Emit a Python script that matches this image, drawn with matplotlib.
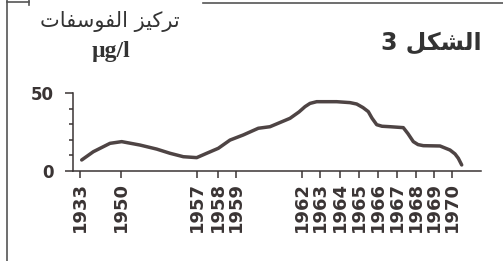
import matplotlib
matplotlib.use("Agg")
import matplotlib.pyplot as plt
from matplotlib.lines import Line2D

# ---- data ----
tick_labels = ["1933", "1950", "1957", "1958", "1959", "1962", "1963", "1964",
               "1965", "1966", "1967", "1968", "1969", "1970"]
# positions of the year ticks along the (non-linear) time axis
tick_pos = [80, 120.7, 196.7, 218.3, 235.7, 302, 320, 340, 359, 378, 397, 416, 434, 452]

curve_x = [81.7, 93.3, 110, 121.7, 140, 156.7, 170, 183.3, 196.7, 206.7, 218.3, 230,
           243.3, 258.3, 270, 290, 299, 305, 310, 316.7, 336.7, 350, 356.7, 363, 368.3,
           372, 376.7, 382, 390, 403.3, 408, 413.3, 418, 423.3, 440, 450, 455, 458.3, 461.7]
curve_y = [7.1, 12.4, 17.8, 18.9, 16.7, 14.1, 11.4, 9.2, 8.6, 11.4, 14.6, 19.9,
           23.2, 27.5, 28.5, 33.9, 38.0, 41.4, 43.5, 44.6, 44.6, 44.0, 43.1, 40.8, 38.2,
           34.0, 29.8, 28.8, 28.5, 27.9, 24.0, 18.9, 17.0, 16.3, 16.1, 13.5, 11.0, 8.2, 3.9]

y_major = [0, 50]
y_minor = [10, 20, 30, 40]

# Arabic texts (presentation forms, visual order)
title_logical = "\uFE97\uFEAE\uFEDB\uFEF4\uFEB0 \uFE8D\uFEDF\uFED4\uFEEE\uFEB3\uFED4\uFE8E\uFE95"
title_ar = title_logical[::-1]          # تركيز الفوسفات
unit_txt = "\u00b5g/l"
fig_logical = "\uFE8D\uFEDF\uFEB8\uFEDC\uFEDE"
fig_ar = "3 " + fig_logical[::-1]       # الشكل 3

# ---- figure ----
W, H = 503, 261
fig = plt.figure(figsize=(W / 100, H / 100), dpi=100)
fig.patch.set_facecolor("white")

ax_left, ax_right = 73.3, 481
y0_px, y50_px = 171, 93.3
ax = fig.add_axes([ax_left / W, (H - y0_px) / H, (ax_right - ax_left) / W, (y0_px - y50_px) / H])
ax.set_xlim(ax_left, ax_right)
ax.set_ylim(0, 50)
ax.patch.set_alpha(0)

ink = "#3a3434"
ax.plot(curve_x, curve_y, color="#4e4444", lw=2.5, solid_capstyle="round",
        solid_joinstyle="round", clip_on=False)

for s in ["top", "right"]:
    ax.spines[s].set_visible(False)
for s in ["left", "bottom"]:
    ax.spines[s].set_color(ink)
    ax.spines[s].set_linewidth(1.1)

ax.set_xticks(tick_pos)
ax.set_xticklabels(tick_labels, rotation=90, fontsize=13, fontweight="bold",
                   color=ink, family="DejaVu Sans")
ax.tick_params(axis="x", direction="out", length=5, width=1.1, color=ink, pad=3)

ax.set_yticks(y_major)
ax.set_yticklabels([str(v) for v in y_major], fontsize=12, fontweight="bold",
                   color=ink, family="DejaVu Sans")
ax.set_yticks(y_minor, minor=True)
ax.tick_params(axis="y", which="major", direction="out", length=6, width=1.1, color=ink, pad=8)
ax.tick_params(axis="y", which="minor", direction="out", length=3, width=1.1, color=ink)

# ---- texts ----
fig.text(110 / W, 1 - 22 / H, title_ar, ha="center", va="center", fontsize=15,
         color="#333333", family="DejaVu Sans")
fig.text(111 / W, 1 - 52 / H, unit_txt, ha="center", va="center", fontsize=17,
         fontweight="bold", color="#333333", family="Liberation Serif")
fig.text(431 / W, 1 - 43 / H, fig_ar, ha="center", va="center", fontsize=17,
         fontweight="bold", color="#333333", family="DejaVu Sans")

# ---- frame lines ----
def pline(x1, y1, x2, y2, lw=1.2):
    fig.add_artist(Line2D([x1 / W, x2 / W], [1 - y1 / H, 1 - y2 / H],
                          transform=fig.transFigure, color="#555555", lw=lw))

pline(7, 0, 7, 261)
pline(7, 1.5, 29, 1.5)
pline(29, 0, 29, 5)
pline(203, 3, 503, 3)

fig.savefig("out.png", dpi=100)
